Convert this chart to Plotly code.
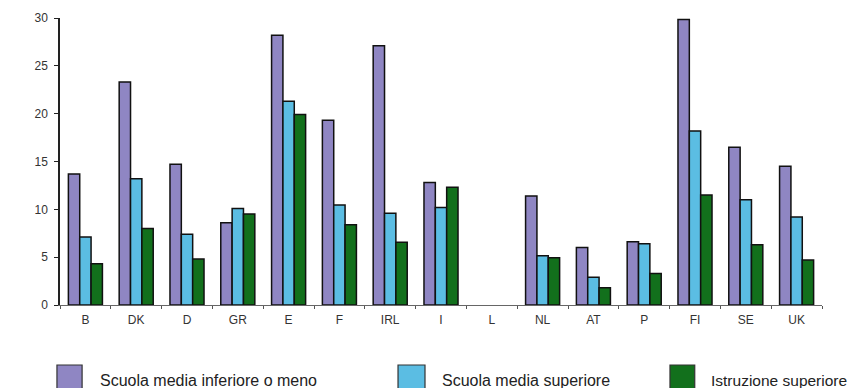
import plotly.graph_objects as go

# Countries (L has no data)
countries = ["B", "DK", "D", "GR", "E", "F", "IRL", "I", "L", "NL", "AT", "P", "FI", "SE", "UK"]

# Values by level of education
inferiore = [13.7, 23.3, 14.7, 8.6, 28.2, 19.3, 27.1, 12.8, None, 11.4, 6.0, 6.6, 29.85, 16.5, 14.5]
superiore = [7.1, 13.2, 7.4, 10.1, 21.3, 10.45, 9.6, 10.2, None, 5.15, 2.9, 6.4, 18.2, 11.0, 9.2]
istruzione = [4.3, 8.0, 4.8, 9.5, 19.9, 8.4, 6.55, 12.3, None, 4.95, 1.8, 3.3, 11.5, 6.3, 4.7]

series_names = ["Scuola media inferiore o meno", "Scuola media superiore", "Istruzione superiore"]
series_values = [inferiore, superiore, istruzione]
series_colors = ["#8f86c3", "#5bbde3", "#12701c"]

y_ticks = [0, 5, 10, 15, 20, 25, 30]

fig = go.Figure()
for name, vals, col in zip(series_names, series_values, series_colors):
    fig.add_trace(go.Bar(
        x=countries, y=vals, name=name,
        marker=dict(color=col, line=dict(color="#111111", width=1.5)),
        showlegend=False,
    ))

# Legend drawn as large swatches with labels beneath the plot
legend_x = [(-0.004, 0.029, 0.050), (0.4436, 0.479, 0.499), (0.8005, 0.833, 0.852)]
legend_sizes = [16, 16, 15.5]
for (x0, x1, xt), name, col, fs in zip(legend_x, series_names, series_colors, legend_sizes):
    fig.add_shape(type="rect", xref="paper", yref="paper",
                  x0=x0, x1=x1, y0=-0.209, y1=-0.30,
                  fillcolor=col, line=dict(color="#333333", width=1.2))
    fig.add_annotation(xref="paper", yref="paper", x=xt, y=-0.262,
                       text=name, showarrow=False, xanchor="left", yanchor="middle",
                       font=dict(family="Liberation Sans, Arial, sans-serif", size=fs, color="#222222"))

fig.update_layout(
    width=851, height=388,
    margin=dict(l=60, r=29, t=18, b=83),
    paper_bgcolor="white", plot_bgcolor="white",
    barmode="group", bargap=0.33, bargroupgap=0,
    font=dict(family="Liberation Sans, Arial, sans-serif", color="#333333"),
)
fig.update_xaxes(
    showline=True, linecolor="#666666", linewidth=1.2,
    ticks="outside", ticklen=3, tickcolor="#555555", tickson="boundaries",
    tickfont=dict(size=12, color="#333333"), ticklabelstandoff=3,
    showgrid=False, zeroline=False,
)
fig.update_yaxes(
    range=[0, 30], tickvals=y_ticks,
    showline=True, linecolor="#222222", linewidth=1.5,
    ticks="outside", ticklen=4, tickcolor="#222222",
    tickfont=dict(size=12, color="#333333"), ticklabelstandoff=4,
    showgrid=False, zeroline=False,
)

fig.write_html("out.html")
